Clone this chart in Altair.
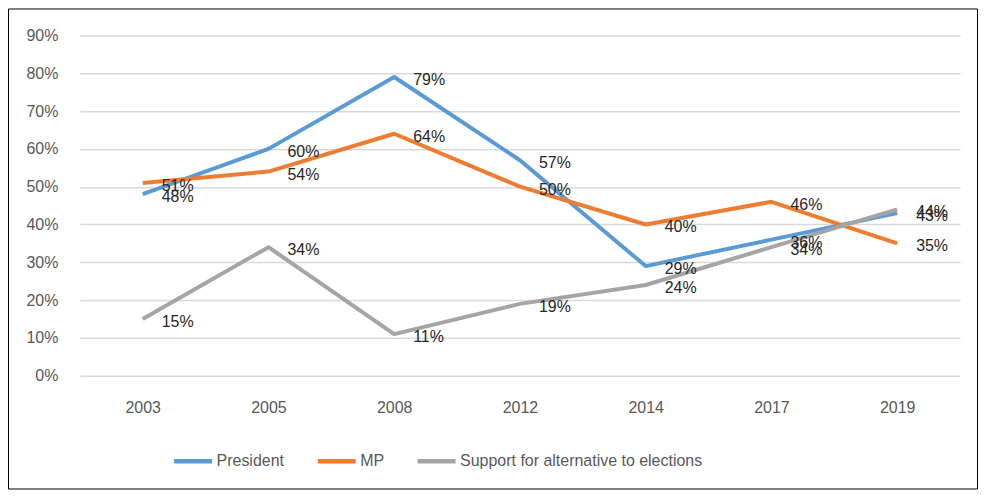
import altair as alt
import pandas as pd

years = ["2003", "2005", "2008", "2012", "2014", "2017", "2019"]
president = [48, 60, 79, 57, 29, 36, 43]
mp = [51, 54, 64, 50, 40, 46, 35]
alternative = [15, 34, 11, 19, 24, 34, 44]
series_names = ["President", "MP", "Support for alternative to elections"]
colors = ["#5B9BD5", "#ED7D31", "#A5A5A5"]
y_ticks = [0, 10, 20, 30, 40, 50, 60, 70, 80, 90]

rows = []
for name, vals in zip(series_names, [president, mp, alternative]):
    for yr, v in zip(years, vals):
        rows.append({"Year": yr, "Series": name, "Value": v / 100, "Label": f"{v}%"})
df = pd.DataFrame(rows)

W, H = 882, 341
FONT = "Liberation Sans"

x = alt.X("Year:N", sort=years, title=None,
          axis=alt.Axis(labelAngle=0, domain=False, ticks=False, labelPadding=24, grid=False))
y = alt.Y("Value:Q", title=None, scale=alt.Scale(domain=[0, 0.9], nice=False),
          axis=alt.Axis(format=".0%", values=[t / 100 for t in y_ticks], domain=False,
                        ticks=False, labelPadding=22, labelOverlap=False))
color = alt.Color("Series:N", sort=series_names,
                  scale=alt.Scale(domain=series_names, range=colors),
                  legend=alt.Legend(title=None, orient="none", direction="horizontal",
                                    legendX=92, legendY=405, symbolType="stroke",
                                    symbolSize=1444, symbolStrokeWidth=4.5,
                                    labelFontSize=16, labelColor="#595959", labelFont=FONT,
                                    labelOffset=2, columnPadding=24, labelLimit=500))

lines = alt.Chart(df).mark_line(strokeWidth=4, strokeJoin="round").encode(
    x=x, y=y, color=color)

labels = alt.Chart(df).mark_text(align="left", baseline="middle", dx=19, dy=3,
                                 fontSize=16, font=FONT, color="#262626").encode(
    x=x, y=y, text="Label:N")

frame_df = pd.DataFrame({"a": [0]})
frame = alt.Chart(frame_df).mark_rect(filled=False, stroke="#000000", strokeWidth=1).encode(
    x=alt.value(-71.5), x2=alt.value(W + 17.5), y=alt.value(-26.5), y2=alt.value(H + 113.5))

chart = alt.layer(lines, labels, frame).properties(
    width=W, height=H, autosize=alt.AutoSizeParams(type="none"),
    padding={"left": 72, "top": 27, "right": 18, "bottom": 114}
).configure(
    background="white",
    view=alt.ViewConfig(stroke=None),
    axis=alt.AxisConfig(labelFontSize=16, labelColor="#595959", labelFont=FONT,
                        gridColor="#D9D9D9", gridWidth=1.5),
)

chart.save("out.html", embed_options={"renderer": "svg", "actions": False})
